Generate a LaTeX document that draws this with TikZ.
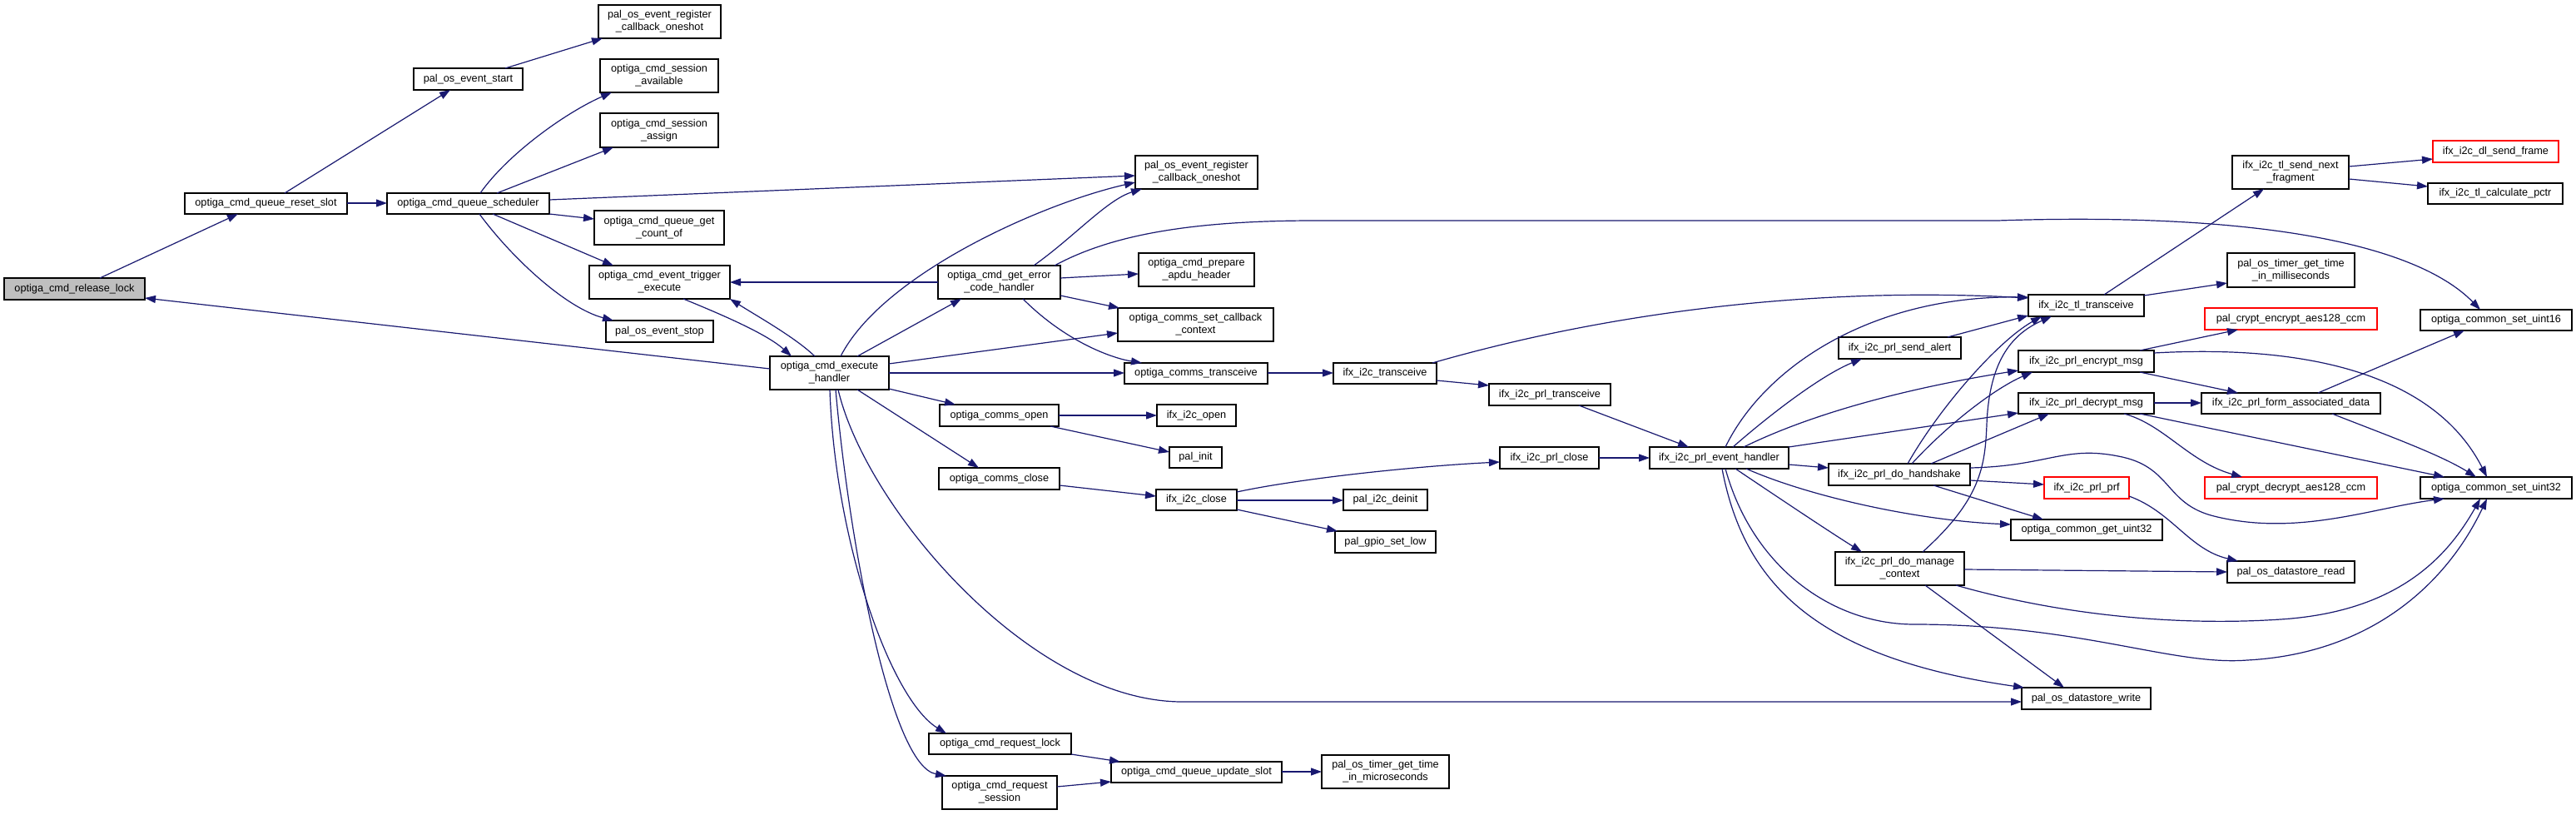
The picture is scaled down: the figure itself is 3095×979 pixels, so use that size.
\documentclass[tikz,border=0pt]{standalone}
\usepackage{fontspec}
\setmainfont{Liberation Sans}
\usetikzlibrary{arrows.meta,calc}
\definecolor{edgec}{HTML}{191970}
\definecolor{lockgray}{HTML}{BFBFBF}
\definecolor{missred}{HTML}{FF0000}
\begin{document}
\begin{tikzpicture}[x=1pt,y=-1pt,
  fn/.style={draw=black,line width=1.2pt,fill=white,inner sep=0pt,outer sep=0pt,align=center,font=\fontsize{12.7}{15}\selectfont},
  miss/.style={draw=missred},
  ed/.style={draw=edgec,line width=1.2pt,-{Triangle[length=13pt,width=9pt]}}]
\fill[white] (0,0) rectangle (3095,979);
\useasboundingbox (0,0) rectangle (3095,979);
% nodes
\node[fn,fill=lockgray,minimum width=169,minimum height=26] (rl) at (89.5,347) {optiga\_cmd\_release\_lock};
\node[fn,minimum width=195,minimum height=25] (rs) at (319.5,244.5) {optiga\_cmd\_queue\_reset\_slot};
\node[fn,minimum width=131,minimum height=26] (es) at (562.5,95) {pal\_os\_event\_start};
\node[fn,minimum width=195,minimum height=25] (sc) at (562.5,244.5) {optiga\_cmd\_queue\_scheduler};
\node[fn,minimum width=147,minimum height=40] (r1) at (792.5,26) {pal\_os\_event\_register\\\_callback\_oneshot};
\node[fn,minimum width=142,minimum height=40] (sa) at (792,91) {optiga\_cmd\_session\\\_available};
\node[fn,minimum width=142,minimum height=41] (sg) at (792,156.5) {optiga\_cmd\_session\\\_assign};
\node[fn,minimum width=156,minimum height=41] (gc) at (792,273.5) {optiga\_cmd\_queue\_get\\\_count\_of};
\node[fn,minimum width=169,minimum height=40] (te) at (792.5,339) {optiga\_cmd\_event\_trigger\\\_execute};
\node[fn,minimum width=129,minimum height=26] (st) at (792.5,398) {pal\_os\_event\_stop};
\node[fn,minimum width=143,minimum height=40] (eh) at (996.5,448) {optiga\_cmd\_execute\\\_handler};
\node[fn,minimum width=147,minimum height=40] (r2) at (1437.5,207) {pal\_os\_event\_register\\\_callback\_oneshot};
\node[fn,minimum width=147,minimum height=40] (ge) at (1200.5,339) {optiga\_cmd\_get\_error\\\_code\_handler};
\node[fn,minimum width=139,minimum height=40] (pa) at (1437.5,324) {optiga\_cmd\_prepare\\\_apdu\_header};
\node[fn,minimum width=187,minimum height=40] (cc) at (1436.5,390) {optiga\_comms\_set\_callback\\\_context};
\node[fn,minimum width=172,minimum height=25] (ct) at (1437,448.5) {optiga\_comms\_transceive};
\node[fn,minimum width=143,minimum height=26] (co) at (1200.5,499) {optiga\_comms\_open};
\node[fn,minimum width=95,minimum height=26] (io) at (1437.5,499) {ifx\_i2c\_open};
\node[fn,minimum width=63,minimum height=25] (pi) at (1436.5,549.5) {pal\_init};
\node[fn,minimum width=145,minimum height=26] (cl) at (1200.5,575) {optiga\_comms\_close};
\node[fn,minimum width=97,minimum height=25] (ic) at (1437.5,600.5) {ifx\_i2c\_close};
\node[fn,minimum width=171,minimum height=25] (rq) at (1201.5,893.5) {optiga\_cmd\_request\_lock};
\node[fn,minimum width=205,minimum height=25] (us) at (1437.5,927.5) {optiga\_cmd\_queue\_update\_slot};
\node[fn,minimum width=138,minimum height=40] (rse) at (1201,952) {optiga\_cmd\_request\\\_session};
\node[fn,minimum width=124,minimum height=25] (it) at (1664,448.5) {ifx\_i2c\_transceive};
\node[fn,minimum width=146,minimum height=26] (pt) at (1862,474) {ifx\_i2c\_prl\_transceive};
\node[fn,minimum width=147,minimum height=26] (sal) at (2282.5,418) {ifx\_i2c\_prl\_send\_alert};
\node[fn,minimum width=119,minimum height=26] (pc) at (1861.5,550) {ifx\_i2c\_prl\_close};
\node[fn,minimum width=167,minimum height=26] (ev) at (2065.5,550) {ifx\_i2c\_prl\_event\_handler};
\node[fn,minimum width=170,minimum height=26] (hs) at (2282,570) {ifx\_i2c\_prl\_do\_handshake};
\node[fn,minimum width=101,minimum height=25] (dd) at (1664.5,600.5) {pal\_i2c\_deinit};
\node[fn,minimum width=121,minimum height=26] (gl) at (1664.5,651) {pal\_gpio\_set\_low};
\node[fn,minimum width=155,minimum height=40] (mc) at (2282.5,683) {ifx\_i2c\_prl\_do\_manage\\\_context};
\node[fn,minimum width=153,minimum height=40] (mu) at (1664.5,927) {pal\_os\_timer\_get\_time\\\_in\_microseconds};
\node[fn,minimum width=140,minimum height=40] (nf) at (2752,207) {ifx\_i2c\_tl\_send\_next\\\_fragment};
\node[fn,miss,minimum width=151,minimum height=26] (df) at (2998.5,182) {ifx\_i2c\_dl\_send\_frame};
\node[fn,minimum width=162,minimum height=25] (cp) at (2998,232.5) {ifx\_i2c\_tl\_calculate\_pctr};
\node[fn,minimum width=139,minimum height=26] (tt) at (2506.5,367) {ifx\_i2c\_tl\_transceive};
\node[fn,minimum width=153,minimum height=41] (ms) at (2752.5,324.5) {pal\_os\_timer\_get\_time\\\_in\_milliseconds};
\node[fn,miss,minimum width=207,minimum height=26] (pe) at (2752.5,383) {pal\_crypt\_encrypt\_aes128\_ccm};
\node[fn,minimum width=182,minimum height=25] (u16) at (2999,384.5) {optiga\_common\_set\_uint16};
\node[fn,minimum width=163,minimum height=26] (em) at (2506.5,434) {ifx\_i2c\_prl\_encrypt\_msg};
\node[fn,minimum width=163,minimum height=25] (dm) at (2506.5,484.5) {ifx\_i2c\_prl\_decrypt\_msg};
\node[fn,minimum width=215,minimum height=25] (fa) at (2752.5,484.5) {ifx\_i2c\_prl\_form\_associated\_data};
\node[fn,miss,minimum width=102,minimum height=26] (pf) at (2507,586) {ifx\_i2c\_prl\_prf};
\node[fn,miss,minimum width=207,minimum height=26] (pd) at (2752.5,586) {pal\_crypt\_decrypt\_aes128\_ccm};
\node[fn,minimum width=182,minimum height=26] (u32) at (2999,586) {optiga\_common\_set\_uint32};
\node[fn,minimum width=182,minimum height=25] (g32) at (2507,636.5) {optiga\_common\_get\_uint32};
\node[fn,minimum width=153,minimum height=26] (dr) at (2752.5,687) {pal\_os\_datastore\_read};
\node[fn,minimum width=155,minimum height=26] (dw) at (2506.5,839) {pal\_os\_datastore\_write};
% edges
\draw[ed] ($(rl.north west)+(115,0)$) -- ($(rs.north west)+(64,25)$);
\draw[ed] ($(rs.north west)+(120,0)$) -- ($(es.north west)+(44,26)$);
\draw[ed] ($(rs.north west)+(195,12)$) -- ($(sc.north west)+(0,12)$);
\draw[ed] ($(es.north west)+(110,0)$) -- ($(r1.north west)+(5,40)$);
\draw[ed] ($(sc.north west)+(112,0)$) .. controls (610,185) and (680,135) .. ($(sa.north west)+(14,40)$);
\draw[ed] ($(sc.north west)+(132,0)$) -- ($(sg.north west)+(16,41)$);
\draw[ed] ($(sc.north west)+(195,8)$) -- ($(r2.north west)+(0,24)$);
\draw[ed] ($(sc.north west)+(195,25)$) -- ($(gc.north west)+(0,10)$);
\draw[ed] ($(sc.north west)+(127,25)$) -- ($(te.north west)+(29,0)$);
\draw[ed] ($(sc.north west)+(111,25)$) .. controls (615,310) and (680,370) .. ($(st.north west)+(9,0)$);
\draw[ed] ($(te.north west)+(113,40)$) .. controls (860,375) and (920,400) .. ($(eh.north west)+(26,0)$);
\draw[ed] ($(eh.north west)+(54,0)$) .. controls (955,405) and (910,380) .. ($(te.north west)+(169,40)$);
\draw[ed] ($(eh.north west)+(0,15)$) -- ($(rl.north west)+(169,24)$);
\draw[ed] ($(eh.north west)+(85,0)$) .. controls (1060,330) and (1250,245) .. ($(r2.north west)+(0,32)$);
\draw[ed] ($(eh.north west)+(105,0)$) -- ($(ge.north west)+(28,40)$);
\draw[ed] ($(eh.north west)+(143,9)$) -- ($(cc.north west)+(0,30)$);
\draw[ed] ($(eh.north west)+(143,20)$) -- ($(ct.north west)+(0,12)$);
\draw[ed] ($(eh.north west)+(143,39)$) -- ($(co.north west)+(19,0)$);
\draw[ed] ($(eh.north west)+(105,40)$) -- ($(cl.north west)+(48,0)$);
\draw[ed] ($(eh.north west)+(82,40)$) .. controls (1040,610) and (1240,845) .. (1423,843) -- ($(dw.north west)+(0,17)$);
\draw[ed] ($(eh.north west)+(72,40)$) .. controls (1003,650) and (1070,840) .. ($(rq.north west)+(21,0)$);
\draw[ed] ($(eh.north west)+(79,40)$) .. controls (1020,650) and (1070,920) .. ($(rse.north west)+(5,0)$);
\draw[ed] ($(ge.north west)+(0,20)$) -- ($(te.north west)+(169,20)$);
\draw[ed] ($(ge.north west)+(115,0)$) .. controls (1290,285) and (1330,240) .. ($(r2.north west)+(8,40)$);
\draw[ed] ($(ge.north west)+(147,15)$) -- ($(pa.north west)+(0,25)$);
\draw[ed] ($(ge.north west)+(147,36)$) -- ($(cc.north west)+(2,0)$);
\draw[ed] ($(ge.north west)+(102,40)$) .. controls (1280,410) and (1335,430) .. ($(ct.north west)+(21,0)$);
\draw[ed] ($(ge.north west)+(140,0)$) .. controls (1330,285) and (1420,265) .. (1580,265) -- (2400,265) .. controls (2700,255) and (2900,290) .. ($(u16.north west)+(72,0)$);
\draw[ed] ($(ct.north west)+(172,12)$) -- ($(it.north west)+(0,12)$);
\draw[ed] ($(co.north west)+(143,13)$) -- ($(io.north west)+(0,13)$);
\draw[ed] ($(co.north west)+(133,26)$) -- ($(pi.north west)+(0,6)$);
\draw[ed] ($(cl.north west)+(145,21)$) -- ($(ic.north west)+(0,8)$);
\draw[ed] ($(ic.north west)+(97,3)$) .. controls (1560,575) and (1700,560) .. ($(pc.north west)+(0,18)$);
\draw[ed] ($(ic.north west)+(97,13)$) -- ($(dd.north west)+(0,13)$);
\draw[ed] ($(ic.north west)+(97,24)$) -- ($(gl.north west)+(3,0)$);
\draw[ed] ($(rq.north west)+(171,25)$) -- ($(us.north west)+(11,0)$);
\draw[ed] ($(rse.north west)+(138,13)$) -- ($(us.north west)+(0,24)$);
\draw[ed] ($(us.north west)+(205,12)$) -- ($(mu.north west)+(0,20)$);
\draw[ed] ($(it.north west)+(119,0)$) .. controls (1950,370) and (2200,345) .. ($(tt.north west)+(0,4)$);
\draw[ed] ($(it.north west)+(124,21)$) -- ($(pt.north west)+(0,2)$);
\draw[ed] ($(pt.north west)+(108,26)$) -- ($(ev.north west)+(47,0)$);
\draw[ed] ($(pc.north west)+(119,13)$) -- ($(ev.north west)+(0,13)$);
\draw[ed] ($(ev.north west)+(91,0)$) .. controls (2120,440) and (2250,355) .. ($(tt.north west)+(0,3)$);
\draw[ed] ($(ev.north west)+(100,0)$) .. controls (2130,495) and (2190,450) .. ($(sal.north west)+(28,26)$);
\draw[ed] ($(ev.north west)+(113,0)$) .. controls (2170,500) and (2280,468) .. ($(em.north west)+(0,24)$);
\draw[ed] ($(ev.north west)+(167,0)$) -- ($(dm.north west)+(0,24)$);
\draw[ed] ($(ev.north west)+(167,21)$) -- ($(hs.north west)+(0,5)$);
\draw[ed] ($(ev.north west)+(116,26)$) .. controls (2170,595) and (2300,625) .. ($(g32.north west)+(0,6)$);
\draw[ed] ($(ev.north west)+(103,26)$) .. controls (2140,600) and (2200,640) .. ($(mc.north west)+(32,0)$);
\draw[ed] ($(ev.north west)+(91,26)$) .. controls (2105,680) and (2200,750) .. (2300,750) .. controls (2500,750) and (2610,800) .. (2700,793) .. controls (2850,785) and (2940,700) .. ($(u32.north west)+(80,26)$);
\draw[ed] ($(ev.north west)+(87,26)$) .. controls (2095,700) and (2180,790) .. ($(dw.north west)+(3,0)$);
\draw[ed] ($(sal.north west)+(131,0)$) -- ($(tt.north west)+(0,25)$);
\draw[ed] ($(hs.north west)+(95,0)$) .. controls (2330,490) and (2400,410) .. ($(tt.north west)+(16,26)$);
\draw[ed] ($(hs.north west)+(100,0)$) .. controls (2345,505) and (2400,465) .. ($(em.north west)+(17,26)$);
\draw[ed] ($(hs.north west)+(123,0)$) -- ($(dm.north west)+(37,25)$);
\draw[ed] ($(hs.north west)+(170,20)$) -- ($(pf.north west)+(0,9)$);
\draw[ed] ($(hs.north west)+(126,26)$) -- ($(g32.north west)+(39,0)$);
\draw[ed] ($(hs.north west)+(170,5)$) .. controls (2460,560) and (2480,535) .. (2545,548) .. controls (2610,560) and (2600,605) .. (2660,620) .. controls (2760,645) and (2850,610) .. ($(u32.north west)+(29,26)$);
\draw[ed] ($(mc.north west)+(105,0)$) .. controls (2380,600) and (2385,560) .. (2387,510) .. controls (2390,430) and (2420,400) .. ($(tt.north west)+(28,26)$);
\draw[ed] ($(mc.north west)+(155,21)$) -- ($(dr.north west)+(0,13)$);
\draw[ed] ($(mc.north west)+(108,40)$) -- ($(dw.north west)+(51,0)$);
\draw[ed] ($(mc.north west)+(145,40)$) .. controls (2480,740) and (2620,752) .. (2740,744) .. controls (2880,735) and (2940,670) .. ($(u32.north west)+(72,26)$);
\draw[ed] ($(em.north west)+(146,0)$) -- ($(pe.north west)+(40,26)$);
\draw[ed] ($(em.north west)+(163,3)$) .. controls (2750,415) and (2920,440) .. ($(u32.north west)+(80,0)$);
\draw[ed] ($(em.north west)+(146,26)$) -- ($(fa.north west)+(44,0)$);
\draw[ed] ($(dm.north west)+(163,12)$) -- ($(fa.north west)+(0,12)$);
\draw[ed] ($(dm.north west)+(127,25)$) .. controls (2600,510) and (2630,555) .. ($(pd.north west)+(45,0)$);
\draw[ed] ($(dm.north west)+(146,25)$) -- ($(u32.north west)+(29,0)$);
\draw[ed] ($(fa.north west)+(140,0)$) -- ($(u16.north west)+(53,25)$);
\draw[ed] ($(fa.north west)+(157,25)$) .. controls (2860,520) and (2930,545) .. ($(u32.north west)+(67,0)$);
\draw[ed] ($(pf.north west)+(102,23)$) .. controls (2610,615) and (2630,660) .. ($(dr.north west)+(13,0)$);
\draw[ed] ($(tt.north west)+(91,0)$) -- ($(nf.north west)+(38,40)$);
\draw[ed] ($(tt.north west)+(139,1)$) -- ($(ms.north west)+(0,36)$);
\draw[ed] ($(nf.north west)+(140,13)$) -- ($(df.north west)+(0,22)$);
\draw[ed] ($(nf.north west)+(140,28)$) -- ($(cp.north west)+(0,4)$);
\end{tikzpicture}
\end{document}
